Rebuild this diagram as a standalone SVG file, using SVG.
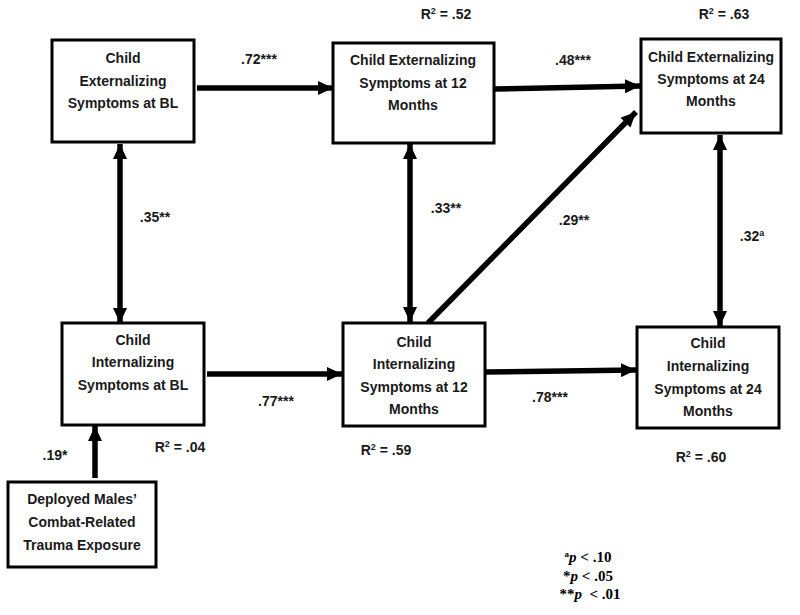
<svg xmlns="http://www.w3.org/2000/svg" width="800" height="615" viewBox="0 0 800 615">
<style>
.box{fill:#fff;stroke:#000;stroke-width:3}
.t{font-family:"Liberation Sans",Arial,sans-serif;font-weight:bold;font-size:14px;fill:#1a1a1a;text-anchor:middle}
.lbl{font-family:"Liberation Sans",Arial,sans-serif;font-weight:bold;font-size:14px;fill:#1a1a1a;text-anchor:middle}
.fn{font-family:"Liberation Serif","Times New Roman",serif;font-weight:bold;font-size:15px;fill:#000;text-anchor:middle}
.ar{stroke:#000;stroke-width:5.5;fill:none}
</style>
<defs>
<marker id="ah" markerUnits="userSpaceOnUse" markerWidth="15" markerHeight="14" refX="15" refY="7" orient="auto-start-reverse" viewBox="0 0 15 14">
<path d="M0,0 L15,7 L0,14 z" fill="#000"/>
</marker>
</defs>
<rect width="800" height="615" fill="#fff"/>
<g id="connectors">
<line class="ar" x1="197" y1="88" x2="333" y2="88" marker-end="url(#ah)"/>
<line class="ar" x1="494" y1="89" x2="640" y2="86" marker-end="url(#ah)"/>
<line class="ar" x1="120" y1="144" x2="120" y2="323" marker-start="url(#ah)" marker-end="url(#ah)"/>
<line class="ar" x1="410" y1="144" x2="410" y2="322" marker-start="url(#ah)" marker-end="url(#ah)"/>
<line class="ar" x1="720" y1="135" x2="720" y2="326" marker-start="url(#ah)" marker-end="url(#ah)"/>
<line class="ar" x1="428" y1="323" x2="636" y2="112" marker-end="url(#ah)"/>
<line class="ar" x1="207" y1="374" x2="342" y2="374" marker-end="url(#ah)"/>
<line class="ar" x1="485" y1="372" x2="636" y2="370" marker-end="url(#ah)"/>
<line class="ar" x1="95" y1="478" x2="95" y2="426" marker-end="url(#ah)"/>
</g>
<g id="n1">
<rect class="box" x="52" y="40" width="142" height="102"/>
<text class="t" x="123" y="63">Child</text>
<text class="t" x="123" y="86">Externalizing</text>
<text class="t" x="123" y="108">Symptoms at BL</text>
</g>
<g id="n2">
<rect class="box" x="333" y="43" width="161" height="100"/>
<text class="t" x="413" y="65">Child Externalizing</text>
<text class="t" x="413" y="88">Symptoms at 12</text>
<text class="t" x="413" y="110">Months</text>
</g>
<g id="n3">
<rect class="box" x="641" y="39" width="140" height="94"/>
<text class="t" x="711" y="62">Child Externalizing</text>
<text class="t" x="711" y="84">Symptoms at 24</text>
<text class="t" x="711" y="106">Months</text>
</g>
<g id="n4">
<rect class="box" x="62" y="323" width="142" height="102"/>
<text class="t" x="133" y="345">Child</text>
<text class="t" x="133" y="367">Internalizing</text>
<text class="t" x="133" y="390">Symptoms at BL</text>
</g>
<g id="n5">
<rect class="box" x="343" y="323" width="142" height="103"/>
<text class="t" x="414" y="347">Child</text>
<text class="t" x="414" y="369">Internalizing</text>
<text class="t" x="414" y="392">Symptoms at 12</text>
<text class="t" x="414" y="414">Months</text>
</g>
<g id="n6">
<rect class="box" x="637" y="327" width="142" height="101"/>
<text class="t" x="708" y="348">Child</text>
<text class="t" x="708" y="371">Internalizing</text>
<text class="t" x="708" y="394">Symptoms at 24</text>
<text class="t" x="708" y="416">Months</text>
</g>
<g id="n7">
<rect class="box" x="8" y="482" width="148" height="85"/>
<text class="t" x="82" y="504">Deployed Males’</text>
<text class="t" x="82" y="527">Combat-Related</text>
<text class="t" x="82" y="550">Trauma Exposure</text>
</g>
<g id="labels">
<text class="lbl" x="259" y="64">.72***</text>
<text class="lbl" x="573" y="65">.48***</text>
<text class="lbl" x="155" y="222">.35**</text>
<text class="lbl" x="446" y="213">.33**</text>
<text class="lbl" x="574" y="225">.29**</text>
<text class="lbl" x="752" y="241">.32<tspan dy="-5" font-size="9">a</tspan></text>
<text class="lbl" x="276" y="406">.77***</text>
<text class="lbl" x="550" y="402">.78***</text>
<text class="lbl" x="55" y="460">.19*</text>
<text class="lbl" x="446" y="19">R<tspan dy="-5" font-size="9">2</tspan><tspan dy="5"> = .52</tspan></text>
<text class="lbl" x="724" y="19">R<tspan dy="-5" font-size="9">2</tspan><tspan dy="5"> = .63</tspan></text>
<text class="lbl" x="180" y="452">R<tspan dy="-5" font-size="9">2</tspan><tspan dy="5"> = .04</tspan></text>
<text class="lbl" x="386" y="455">R<tspan dy="-5" font-size="9">2</tspan><tspan dy="5"> = .59</tspan></text>
<text class="lbl" x="701" y="462">R<tspan dy="-5" font-size="9">2</tspan><tspan dy="5"> = .60</tspan></text>
</g>
<g id="footnote">
<text class="fn" x="588" y="562"><tspan dy="-5" font-size="9">a</tspan><tspan dy="5" font-style="italic">p</tspan> &lt; .10</text>
<text class="fn" x="588" y="581">*<tspan font-style="italic">p</tspan> &lt; .05</text>
<text class="fn" x="590" y="599">**<tspan font-style="italic">p</tspan>&#160; &lt; .01</text>
</g>
</svg>
